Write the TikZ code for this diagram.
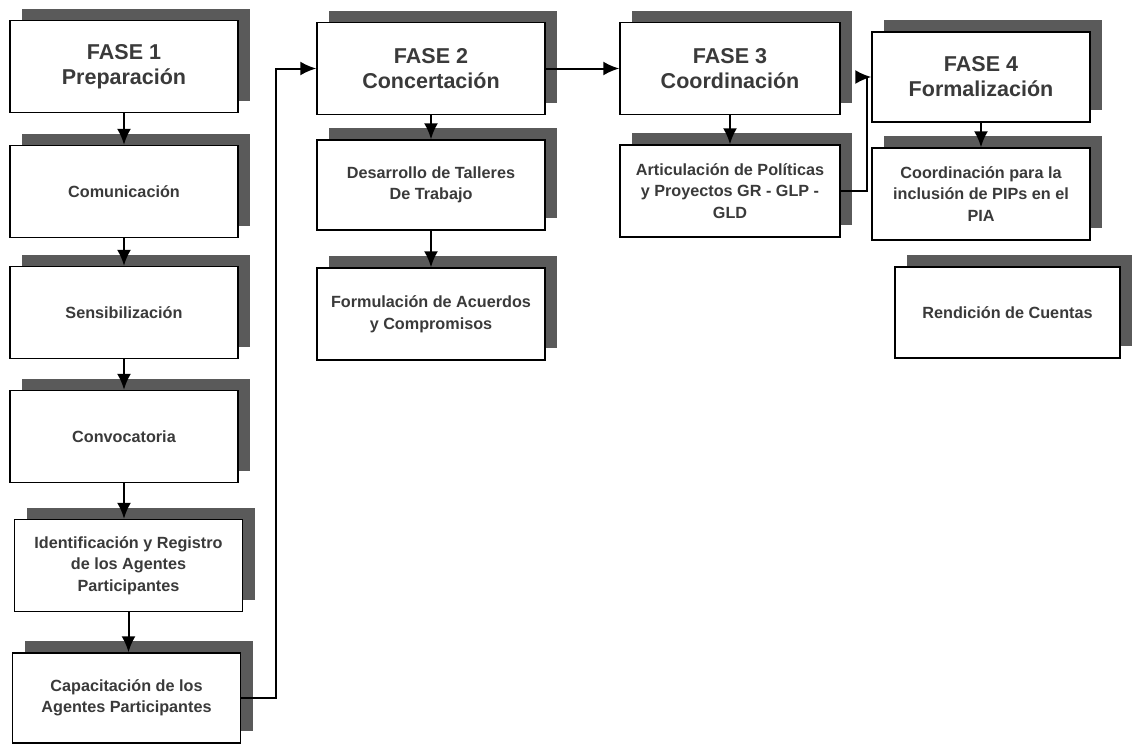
\documentclass[tikz,border=0pt]{standalone}
\usepackage{fontspec}
\setmainfont{Liberation Sans}
\usetikzlibrary{shapes,arrows.meta,positioning,calc,shadows}
\usepackage{xcolor}
\definecolor{sombra}{HTML}{5A5A5A}
\definecolor{texto}{HTML}{3A3A3A}

\tikzset{
  caja/.style={draw, line width=1.5pt, fill=white, align=center, text=texto,
    font=\bfseries\fontsize{16.2}{21.5}\selectfont,
    minimum width=228pt, minimum height=92pt, inner sep=2pt,
    general shadow={fill=sombra, shadow xshift=12pt, shadow yshift=12pt}},
  fase/.style={caja, font=\bfseries\fontsize{21.5}{25}\selectfont},
  flecha/.style={-{Latex[length=16pt,width=14pt]}, line width=2pt},
}

\begin{document}
\begin{tikzpicture}[x=1pt, y=-1pt]
            \useasboundingbox (0,0) rectangle (1136,745);

            % Fase 1
            \node[fase] (f1) at (124,66.5) {FASE 1\\Preparación};
            \node[caja] (com) at (124,191.5) {Comunicación};
            \node[caja] (sen) at (124,312.5) {Sensibilización};
            \node[caja] (con) at (124,436.5) {Convocatoria};
            \node[caja] (ide) at (128.5,565.5) {Identificación y Registro\\de los Agentes\\Participantes};
            \node[caja, minimum height=90pt] (cap) at (126.5,698) {Capacitación de los\\Agentes Participantes};

            \draw[flecha] (f1) -- (com);
            \draw[flecha] (com) -- (sen);
            \draw[flecha] (sen) -- (con);
            \draw[flecha] (con.south) -- (con.south |- ide.north);
            \draw[flecha] (ide.south) -- (ide.south |- cap.north);

            % Fase 2
            \node[fase] (f2) at (431,68.5) {FASE 2\\Concertación};
            \node[caja, minimum height=90pt] (des) at (431,185) {Desarrollo de Talleres\\De Trabajo};
            \node[caja] (for) at (431,314) {Formulación de Acuerdos\\y Compromisos};

            \draw[flecha] (cap.east) -- ++(35,0) |- (f2.west);
            \draw[flecha] (f2) -- (des);
            \draw[flecha] (des) -- (for);

            % Fase 3
            \node[fase, minimum width=220pt] (f3) at (730,68.5) {FASE 3\\Coordinación};
            \node[caja, minimum width=220pt] (art) at (730,191) {Articulación de Políticas\\y Proyectos GR - GLP -\\GLD};

            \draw[flecha] (f2) -- (f3);
            \draw[flecha] (f3) -- (art);

            % Fase 4
            \node[fase, minimum width=218pt, minimum height=90pt] (f4) at (981,77) {FASE 4\\Formalización};
            \node[caja, minimum width=218pt] (coo) at (981,194) {Coordinación para la\\inclusión de PIPs en el\\PIA};
            \node[caja, minimum width=225pt, minimum height=91pt] (ren) at (1007.5,312.5) {Rendición de Cuentas};

            \draw[flecha] (art.east) -- ++(26,0) |- (f4.west);
            \draw[flecha] (f4) -- (coo);
\end{tikzpicture}
\end{document}
